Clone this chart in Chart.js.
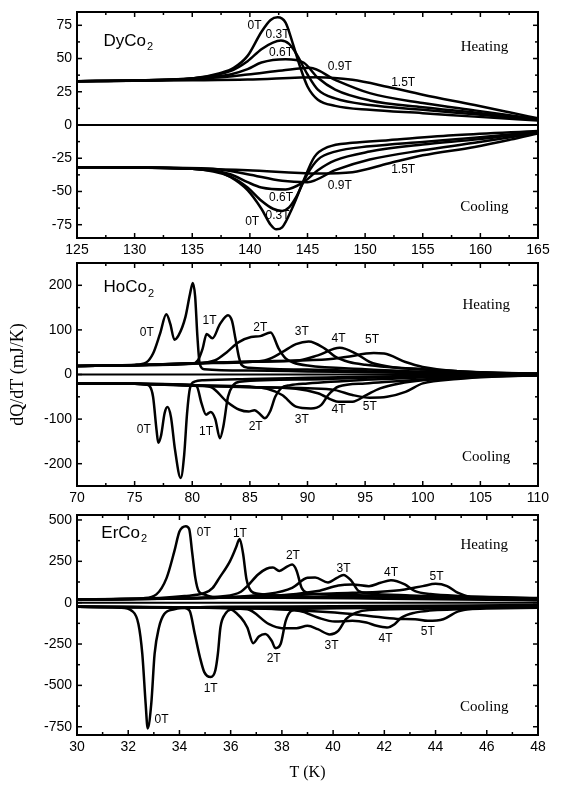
<!DOCTYPE html>
<html><head><meta charset="utf-8">
<script src="https://cdn.jsdelivr.net/npm/chart.js@4/dist/chart.umd.min.js"></script>
<style>
html,body{margin:0;padding:0;background:#fff;}
#wrap{position:relative;width:568px;height:789px;overflow:hidden;background:#fff;}
#wrap canvas{position:absolute;left:0;top:0;}
</style></head><body>
<div id="wrap">
<canvas id="c1" width="568" height="789"></canvas>
<canvas id="c2" width="568" height="789"></canvas>
<canvas id="c3" width="568" height="789"></canvas>
</div>
<script>
// ---------- tick labels ----------
const DY_X_TICKS = [125,130,135,140,145,150,155,160,165];
const DY_Y_TICKS = [-75,-50,-25,0,25,50,75];
const HO_X_TICKS = [70,75,80,85,90,95,100,105,110];
const HO_Y_TICKS = [-200,-100,0,100,200];
const ER_X_TICKS = [30,32,34,36,38,40,42,44,46,48];
const ER_Y_TICKS = [-750,-500,-250,0,250,500];

// ---------- DyCo2 (T [K], dQ/dT [mJ/K]) ----------
const dyHeat0T  = [[125,33],[130,33.5],[135,35],[137.4,39],[138.6,43],[139.8,52],[141,70],[141.8,79],[142.4,81],[143.1,77],[143.7,62],[144.35,44],[145,29],[145.9,19],[147.4,14.4],[150.4,11.4],[155,8.9],[159.5,6.3],[165,3.3]];
const dyHeat03T = [[125,33],[130,33.5],[135,35],[138.3,40.5],[139.8,48],[141,57],[142,62],[142.7,63.5],[143.4,61],[144,54],[145,38],[145.9,26.6],[147.4,20],[150.4,15],[155,11.4],[159.5,8],[165,3.8]];
const dyHeat06T = [[125,33],[130,33.5],[135,35],[138.3,38],[139.8,42],[141,47],[143.1,49.5],[144.65,47],[145.9,35.5],[147.4,26.6],[150.4,18.5],[155,13.4],[159.5,9.4],[165,4]];
const dyHeat09T = [[125,33],[130,33.5],[136.8,35.5],[139.8,38],[142.8,41],[145.2,43],[147.4,34],[150.4,24],[155,16.5],[159.5,11],[165,4.5]];
const dyHeat15T = [[125,33],[130,33.2],[135,33.6],[139.8,34.2],[145.9,36],[148.9,34],[152,28.6],[155,22.8],[159.5,15],[162.6,9.4],[165,5]];
const dyCool0T  = [[125,-31.7],[130,-32],[135,-33],[136.8,-34],[138.3,-39],[139.8,-49],[141,-63],[141.8,-75],[142.3,-78.5],[142.8,-77],[143.7,-62],[144.65,-42],[145.6,-24],[146.8,-16.5],[148.9,-13.4],[152,-11.4],[158,-7.6],[165,-4.5]];
const dyCool03T = [[125,-31.7],[130,-32],[135,-33],[138.3,-38.8],[139.8,-47],[141,-57],[142,-63],[142.8,-64.6],[143.4,-62],[144,-54.5],[145,-36.7],[145.9,-26],[147.4,-20],[150.4,-16],[155,-12.7],[159.5,-9.6],[165,-5]];
const dyCool06T = [[125,-31.7],[130,-32],[135,-33],[138.3,-37],[139.8,-43],[141,-47],[143.1,-48.5],[144.65,-43],[145.9,-34],[147.4,-26.6],[150.4,-20],[155,-14.7],[159.5,-11],[165,-5.5]];
const dyCool09T = [[125,-31.7],[130,-32],[136.8,-33],[139.8,-37],[142.8,-42],[145,-43],[147.4,-34],[150.4,-26],[155,-19],[159.5,-13.4],[165,-6]];
const dyCool15T = [[125,-31.7],[130,-32],[139.8,-34],[145.9,-36.5],[148.9,-35.5],[152,-29],[155,-22.8],[159.5,-16.5],[162.6,-11],[165,-6.3]];

// ---------- HoCo2 ----------
const hoHeat0T = [[70,19],[73,20.5],[75,22],[76,27],[76.6,47],[77.2,91],[77.75,135],[78.1,113],[78.45,78],[78.8,87],[79.4,128],[79.8,180],[80.05,205],[80.25,175],[80.45,84],[80.65,24],[81.05,12],[85,9],[90,7],[95,5],[100,3],[105,1.5],[110,0.5]];
const hoHeat1T = [[70,19],[75,21],[80,24],[80.5,32],[80.9,58],[81.25,91],[81.75,81],[82.4,113],[83.1,133],[83.45,120],[83.75,80],[84.05,39],[84.3,21],[84.9,15],[90,11],[95,7.5],[100,4.5],[105,2],[110,1]];
const hoHeat2T = [[70,19],[75,21],[80,24.5],[82,32],[83,50],[84,72],[85.1,84],[85.9,86],[86.8,94],[87.5,58],[88.1,36],[88.75,27],[90,20],[95,12],[100,6.5],[105,3],[110,1.2]];
const hoHeat3T = [[70,19],[75,21],[80,25],[85,28],[86.5,33],[87.8,50],[89,68],[90.1,74],[91.5,58],[92.4,40],[93.6,28],[95,22],[100,11],[105,4.5],[110,1.5]];
const hoHeat4T = [[70,19],[75,21],[80,25],[85,28.5],[89.35,32],[90.9,43],[92.8,60],[94.2,47],[95.4,28],[97,18],[100,12],[105,5],[110,1.8]];
const hoHeat5T = [[70,19],[75,21],[80,25],[85,29],[90,32],[91.8,34],[93.3,39],[95.75,48],[96.65,47],[98.5,28],[100,17],[103,7.5],[106,4],[110,2]];
const hoCool0T = [[70,-20],[75,-21],[76,-23],[76.3,-26],[76.6,-50],[76.9,-124],[77.05,-153],[77.3,-136],[77.6,-87],[77.85,-73],[78.15,-95],[78.5,-168],[79.0,-232],[79.3,-180],[79.55,-87],[79.8,-31],[80.2,-16],[81,-13],[85,-10],[90,-7.5],[95,-5],[100,-3],[105,-1.5],[110,-0.5]];
const hoCool1T = [[70,-20],[75,-21],[80,-23],[80.4,-27],[80.8,-64],[81.2,-90],[81.6,-84],[82.0,-100],[82.4,-143],[82.7,-116],[83.1,-50],[83.55,-24],[84.1,-16],[90,-11],[95,-7.5],[100,-4.5],[105,-2],[110,-1]];
const hoCool2T = [[70,-20],[75,-21],[80,-24],[81.6,-28],[83,-61],[84.1,-79],[84.9,-83],[85.4,-80],[85.8,-87],[86.3,-98],[86.75,-83],[87.2,-50],[87.7,-31],[88.5,-24],[90,-20],[95,-12],[100,-6.5],[105,-3],[110,-1.2]];
const hoCool3T = [[70,-20],[75,-21],[80,-24],[85,-27],[86.5,-32],[87.8,-46],[89,-72],[90.3,-76],[91.2,-68],[91.8,-46],[92.7,-27],[95,-20],[100,-11],[105,-4.5],[110,-1.5]];
const hoCool4T = [[70,-20],[75,-21],[80,-24.5],[85,-28],[89,-32],[90.9,-42],[92.7,-61],[93.9,-61],[95.1,-46],[96.3,-31],[98,-20],[100,-13],[105,-5],[110,-1.8]];
const hoCool5T = [[70,-20],[75,-21],[80,-25],[85,-28.5],[90,-31],[92.4,-35],[93.9,-46],[95.4,-52],[96.9,-50],[98.5,-39],[100,-20],[103,-10],[106,-5],[110,-2]];

// ---------- ErCo2 ----------
const erHeat0T = [[30,20],[32,22],[32.55,26],[33.1,50],[33.5,150],[33.8,310],[34.0,430],[34.25,462],[34.38,445],[34.5,300],[34.62,150],[34.75,70],[34.95,50],[35.3,35],[38,30],[42,24],[48,14]];
const erHeat1T = [[30,20],[32,22],[34.2,40],[35,60],[35.3,90],[35.56,150],[35.97,250],[36.2,330],[36.35,385],[36.48,300],[36.62,140],[36.8,70],[37.07,54],[38,42],[42,32],[48,18]];
const erHeat2T = [[30,20],[33,24],[35.8,40],[36.4,66],[36.65,100],[37.07,170],[37.4,205],[37.65,212],[37.9,192],[38.2,218],[38.4,230],[38.57,195],[38.77,90],[38.98,60],[40,48],[44,34],[48,22]];
const erHeat3T = [[30,20],[34,26],[37.5,54],[38.4,90],[39.0,150],[39.3,152],[39.8,122],[40.15,150],[40.4,168],[40.7,135],[41.0,70],[41.4,56],[43,44],[48,26]];
const erHeat4T = [[30,20],[35,28],[39.4,70],[40.2,104],[40.75,110],[41.4,100],[41.85,120],[42.26,135],[42.8,110],[43.2,70],[43.8,52],[45,40],[48,28]];
const erHeat5T = [[30,20],[35,28],[40.75,60],[41.85,66],[42.8,80],[43.5,100],[44.0,114],[44.45,100],[44.86,60],[45.4,32],[46.2,22],[48,16]];
const erCool0T = [[30,-25],[31.7,-30],[32.15,-50],[32.4,-130],[32.55,-310],[32.68,-610],[32.76,-760],[32.9,-610],[33.03,-310],[33.2,-150],[33.4,-70],[33.8,-40],[34.6,-28],[36,-24],[40,-22],[48,-14]];
const erCool1T = [[30,-25],[33,-27],[34.2,-32],[34.4,-50],[34.6,-190],[34.8,-330],[34.97,-420],[35.22,-450],[35.4,-410],[35.5,-310],[35.6,-150],[35.78,-70],[36,-42],[37,-34],[40,-30],[48,-18]];
const erCool2T = [[30,-25],[34,-28],[35.84,-30],[36.4,-90],[36.65,-150],[36.88,-245],[37.1,-205],[37.35,-190],[37.6,-230],[37.75,-275],[37.95,-250],[38.15,-110],[38.36,-50],[38.7,-38],[42,-32],[48,-22]];
const erCool3T = [[30,-25],[35,-30],[36.65,-40],[37.5,-130],[38,-154],[38.57,-154],[39,-140],[39.4,-160],[39.87,-192],[40.2,-170],[40.5,-100],[40.9,-60],[41.4,-44],[44,-36],[48,-26]];
const erCool4T = [[30,-25],[36,-32],[38.7,-50],[39.4,-90],[40.07,-114],[40.75,-110],[41.3,-120],[41.7,-140],[42.1,-150],[42.4,-130],[42.67,-90],[43.2,-60],[43.76,-48],[46,-36],[48,-30]];
const erCool5T = [[30,-25],[37,-35],[40.07,-60],[41.4,-80],[42.5,-98],[43.2,-100],[43.7,-110],[44.3,-100],[44.86,-54],[45.5,-36],[48,-20]];

// ---------- curve labels: [text, T, value] ----------
const DY_NOTES = [['0T',140.4,74.7],['0.3T',142.4,67.6],['0.6T',142.7,54.5],['0.9T',147.8,44],['1.5T',153.3,32],
                  ['1.5T',153.3,-33.7],['0.9T',147.8,-45.6],['0.6T',142.7,-55],['0.3T',142.4,-68.4],['0T',140.2,-73]];
const HO_NOTES = [['0T',76.05,94.8],['1T',81.5,120.7],['2T',85.9,106],['3T',89.5,95],['4T',92.7,80],['5T',95.6,77],
                  ['0T',75.8,-124],['1T',81.2,-127.6],['2T',85.5,-116],['3T',89.5,-102],['4T',92.7,-80],['5T',95.4,-72]];
const ER_NOTES = [['0T',34.95,426],['1T',36.36,420],['2T',38.43,286],['3T',40.41,206],['4T',42.26,180],['5T',44.04,160],
                  ['0T',33.3,-706],['1T',35.22,-520],['2T',37.68,-340],['3T',39.94,-260],['4T',42.05,-220],['5T',43.7,-176]];

const SANS = '"Liberation Sans", Arial, sans-serif';
const SERIF = '"Liberation Serif", "Times New Roman", serif';

const deco = {
  id: 'deco',
  afterDatasetsDraw(chart, args, o) {
    const {ctx, chartArea: a, scales: {x, y}} = chart;
    ctx.save();
    ctx.strokeStyle = '#000';
    ctx.lineWidth = 2;
    ctx.strokeRect(a.left, a.top, a.right - a.left, a.bottom - a.top);
    ctx.lineWidth = 1.5;
    const seg = (x1, y1, x2, y2) => { ctx.beginPath(); ctx.moveTo(x1, y1); ctx.lineTo(x2, y2); ctx.stroke(); };
    const mids = t => { const r = []; for (let i = 0; i < t.length - 1; i++) r.push((t[i] + t[i + 1]) / 2); return r; };
    const xs = (vals, len) => vals.forEach(v => { if (v < x.min || v > x.max) return; const p = x.getPixelForValue(v); seg(p, a.bottom, p, a.bottom - len); seg(p, a.top, p, a.top + len); });
    const ys = (vals, len) => vals.forEach(v => { if (v < y.min || v > y.max) return; const p = y.getPixelForValue(v); seg(a.left, p, a.left + len, p); seg(a.right, p, a.right - len, p); });
    xs(o.xt, 5); xs(mids(o.xt), 3);
    ys(o.yt, 5); ys(mids(o.yt), 3);
    ctx.fillStyle = '#000';
    ctx.textAlign = 'center'; ctx.textBaseline = 'middle';
    ctx.font = '12px ' + SANS;
    o.notes.forEach(n => ctx.fillText(n[0], x.getPixelForValue(n[1]), y.getPixelForValue(n[2])));
    ctx.font = '15px ' + SERIF;
    ctx.fillText('Heating', x.getPixelForValue(o.heat[0]), y.getPixelForValue(o.heat[1]));
    ctx.fillText('Cooling', x.getPixelForValue(o.cool[0]), y.getPixelForValue(o.cool[1]));
    ctx.textAlign = 'left';
    ctx.font = '17px ' + SANS;
    const nx = x.getPixelForValue(o.name[2]), ny = y.getPixelForValue(o.name[3]);
    ctx.fillText(o.name[0], nx, ny);
    const w = ctx.measureText(o.name[0]).width;
    ctx.font = '11px ' + SANS;
    ctx.fillText(o.name[1], nx + w + 1, ny + 6);
    ctx.restore();
  }
};

function pts(a) { return a.map(p => ({x: p[0], y: p[1]})); }

function build(id, P) {
  const ds = P.series.map(s => ({data: pts(s), borderColor: '#000', borderWidth: 2.5, pointRadius: 0, fill: false, cubicInterpolationMode: 'monotone'}));
  ds.push({data: pts([[P.xr[0], 0], [P.xr[1], 0]]), borderColor: '#000', borderWidth: 2, pointRadius: 0, fill: false});
  new Chart(document.getElementById(id), {
    type: 'line',
    data: {datasets: ds},
    options: {
      responsive: false, animation: false, devicePixelRatio: 1,
      layout: {padding: {top: P.top, bottom: 789 - P.bottom - P.xh, left: 0, right: 30}},
      plugins: {legend: {display: false}, tooltip: {enabled: false},
        deco: {xt: P.xt, yt: P.yt, notes: P.notes, heat: P.heat, cool: P.cool, name: P.name}},
      scales: {
        x: {type: 'linear', min: P.xr[0], max: P.xr[1],
          grid: {display: false, drawTicks: false}, border: {display: false},
          ticks: {color: '#000', font: {family: SANS, size: 14}, padding: 4, maxRotation: 0, autoSkip: false},
          afterBuildTicks: s => { s.ticks = P.xt.map(v => ({value: v})); },
          afterFit: s => { s.height = P.xh; s.paddingLeft = 0; s.paddingRight = 0; },
          title: P.xtitle ? {display: true, text: P.xtitle, color: '#000', font: {family: SERIF, size: 16}, padding: {top: 0, bottom: 7}} : {display: false}
        },
        y: {type: 'linear', min: P.yr[0], max: P.yr[1],
          grid: {display: false, drawTicks: false}, border: {display: false},
          ticks: {color: '#000', font: {family: SANS, size: 14}, padding: 5},
          afterBuildTicks: s => { s.ticks = P.yt.map(v => ({value: v})); },
          afterFit: s => { s.width = 77; s.paddingTop = 0; s.paddingBottom = 0; },
          title: P.ytitle ? {display: true, text: P.ytitle, color: '#000', font: {family: SERIF, size: 18}, padding: {top: 7, bottom: 0}} : {display: false}
        }
      }
    },
    plugins: [deco]
  });
}

build('c1', {top: 12, bottom: 238, xh: 20, xr: [125, 165], yr: [-85, 85], xt: DY_X_TICKS, yt: DY_Y_TICKS,
  series: [dyHeat0T, dyHeat03T, dyHeat06T, dyHeat09T, dyHeat15T, dyCool0T, dyCool03T, dyCool06T, dyCool09T, dyCool15T],
  notes: DY_NOTES, heat: [160.35, 58.5], cool: [160.35, -62], name: ['DyCo', '2', 127.3, 63]});
build('c2', {top: 263, bottom: 486, xh: 20, xr: [70, 110], yr: [-250, 250], xt: HO_X_TICKS, yt: HO_Y_TICKS,
  series: [hoHeat0T, hoHeat1T, hoHeat2T, hoHeat3T, hoHeat4T, hoHeat5T, hoCool0T, hoCool1T, hoCool2T, hoCool3T, hoCool4T, hoCool5T],
  notes: HO_NOTES, heat: [105.5, 155], cool: [105.5, -186], name: ['HoCo', '2', 72.3, 195], ytitle: 'dQ/dT (mJ/K)'});
build('c3', {top: 515, bottom: 735, xh: 54, xr: [30, 48], yr: [-800, 530], xt: ER_X_TICKS, yt: ER_Y_TICKS,
  series: [erHeat0T, erHeat1T, erHeat2T, erHeat3T, erHeat4T, erHeat5T, erCool0T, erCool1T, erCool2T, erCool3T, erCool4T, erCool5T],
  notes: ER_NOTES, heat: [45.9, 351], cool: [45.9, -630], name: ['ErCo', '2', 30.95, 420], xtitle: 'T (K)'});
</script>
</body></html>
